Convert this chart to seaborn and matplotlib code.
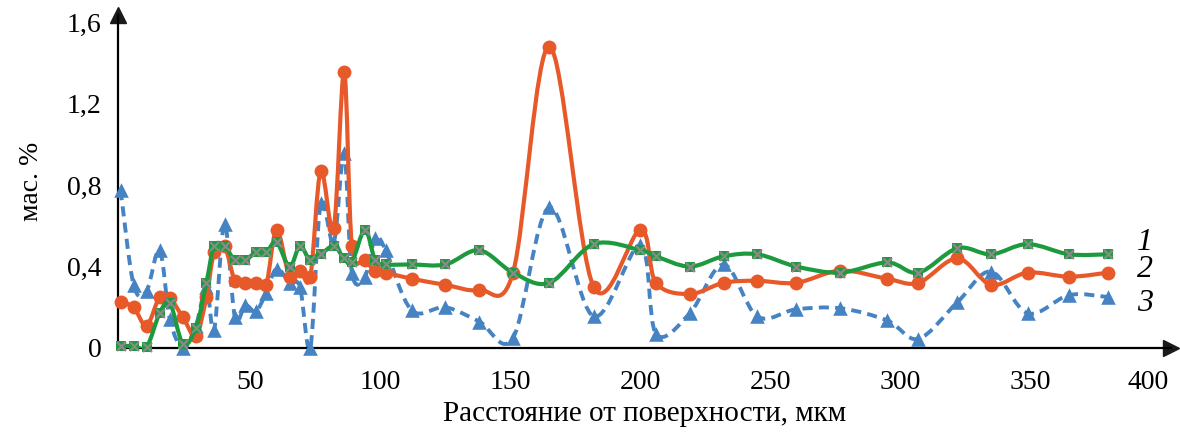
import numpy as np
import pandas as pd
import matplotlib
matplotlib.use('Agg')
import matplotlib.pyplot as plt
import matplotlib.transforms as mtransforms
import seaborn as sns
from matplotlib.path import Path
from matplotlib.patches import PathPatch

# Расстояние от поверхности, мкм
distance = [0, 5, 10, 15, 19, 24, 29, 33, 36, 40, 44, 48, 52, 56, 60, 65, 69, 73,
            77, 82, 86, 89, 94, 98, 102, 112, 125, 138, 151, 165, 182, 200, 206,
            219, 232, 245, 260, 277, 295, 307, 322, 335, 349, 365, 380]

# кривая 1 (зелёная)
series_1 = [0.01, 0.01, 0.005, 0.17, 0.22, 0.02, 0.10, 0.32, 0.50, 0.50, 0.43, 0.43,
            0.47, 0.47, 0.52, 0.40, 0.50, 0.43, 0.46, 0.50, 0.44, 0.42, 0.58, 0.43,
            0.41, 0.41, 0.41, 0.48, 0.37, 0.32, 0.51, 0.48, 0.45, 0.40, 0.45, 0.46,
            0.40, 0.37, 0.42, 0.37, 0.49, 0.46, 0.51, 0.46, 0.46]

# кривая 2 (оранжевая)
series_2 = [0.225, 0.20, 0.11, 0.25, 0.245, 0.15, 0.06, 0.25, 0.47, 0.50, 0.33, 0.32,
            0.32, 0.31, 0.58, 0.35, 0.38, 0.35, 0.87, 0.59, 1.355, 0.50, 0.43, 0.38,
            0.37, 0.34, 0.31, 0.285, 0.37, 1.48, 0.30, 0.58, 0.32, 0.265, 0.32, 0.33,
            0.32, 0.38, 0.34, 0.32, 0.44, 0.31, 0.37, 0.35, 0.37]

# кривая 3 (синяя, пунктир)
series_3 = [0.775, 0.31, 0.28, 0.48, 0.14, 0.0, 0.11, 0.30, 0.09, 0.61, 0.15, 0.21,
            0.18, 0.27, 0.39, 0.32, 0.30, 0.0, 0.71, 0.515, 0.955, 0.37, 0.35, 0.54,
            0.48, 0.185, 0.20, 0.13, 0.05, 0.69, 0.155, 0.505, 0.07, 0.17, 0.41, 0.155,
            0.19, 0.195, 0.135, 0.045, 0.225, 0.375, 0.17, 0.26, 0.25]

y_ticks = [0, 0.4, 0.8, 1.2, 1.6]
x_ticks = [50, 100, 150, 200, 250, 300, 350, 400]

GREEN = '#1E9A3E'
ORANGE = '#E8592A'
BLUE = '#4683C3'


def smooth_path(xs, ys):
    # сглаженная линия как в Excel (кривые Безье через точки)
    pts = np.column_stack([xs, ys]).astype(float)
    n = len(pts)
    verts = [pts[0]]
    codes = [Path.MOVETO]
    for i in range(n - 1):
        p0 = pts[max(i - 1, 0)]
        p1 = pts[i]
        p2 = pts[i + 1]
        p3 = pts[min(i + 2, n - 1)]
        verts += [p1 + (p2 - p0) / 6, p2 - (p3 - p1) / 6, p2]
        codes += [Path.CURVE4] * 3
    return Path(verts, codes)


sns.set_theme(style='white')
plt.rcParams['font.family'] = ['Liberation Serif', 'DejaVu Serif']

fig = plt.figure(figsize=(11.8, 4.37), dpi=100)
ax = fig.add_axes([0.1, 0.2037, 0.892, 0.762])

df = pd.DataFrame({'x': distance, 's1': series_1, 's2': series_2, 's3': series_3})

# 3 - синяя пунктирная
ax.add_patch(PathPatch(smooth_path(df.x, df.s3), fill=False, edgecolor=BLUE,
                       lw=2.8, linestyle=(0, (2.6, 1.6)), zorder=2))
sns.scatterplot(data=df, x='x', y='s3', marker='^', s=110, color=BLUE,
                edgecolor=BLUE, linewidth=0, ax=ax, zorder=3, clip_on=False)

# 2 - оранжевая
ax.add_patch(PathPatch(smooth_path(df.x, df.s2), fill=False, edgecolor=ORANGE,
                       lw=3.0, zorder=4))
sns.scatterplot(data=df, x='x', y='s2', marker='o', s=100, color=ORANGE,
                edgecolor=ORANGE, linewidth=0, ax=ax, zorder=5, clip_on=False)

# 1 - зелёная
ax.add_patch(PathPatch(smooth_path(df.x, df.s1), fill=False, edgecolor=GREEN,
                       lw=3.0, zorder=6))
sns.scatterplot(data=df, x='x', y='s1', marker='s', s=58, color=GREEN,
                edgecolor=GREEN, linewidth=0, ax=ax, zorder=7, clip_on=False)
sns.scatterplot(data=df, x='x', y='s1', marker='x', s=42, color='#8A8A8A',
                linewidth=1.6, ax=ax, zorder=8, clip_on=False)

ax.set_xlim(-1, 404)
ax.set_ylim(0, 1.635)
ax.set_xticks(x_ticks)
ax.set_xticklabels([str(t) for t in x_ticks])
ax.set_yticks(y_ticks)
ax.set_yticklabels([('%g' % t).replace('.', ',') for t in y_ticks])
ax.tick_params(axis='both', length=0, labelsize=20, colors='black')
ax.tick_params(axis='x', pad=16)
ax.tick_params(axis='y', pad=12)

# последняя подпись чуть левее, как в Excel
last = ax.get_xticklabels()[-1]
last.set_transform(last.get_transform() +
                   mtransforms.ScaledTranslation(-0.12, 0, fig.dpi_scale_trans))

for side in ['top', 'right']:
    ax.spines[side].set_visible(False)
for side in ['left', 'bottom']:
    ax.spines[side].set_color('black')
    ax.spines[side].set_linewidth(1.6)

ax.plot(1, 0, '>k', ms=11, transform=ax.transAxes, clip_on=False)
ax.plot(0, 1, '^k', ms=11, transform=ax.transAxes, clip_on=False)

ax.set_xlabel('Расстояние от поверхности, мкм', fontsize=21, color='black', labelpad=4)
ax.set_ylabel('мас. %', fontsize=20, color='black', labelpad=16)

for lab, yv in [('1', 0.52), ('2', 0.385), ('3', 0.22)]:
    ax.text(391, yv, lab, fontsize=23, style='italic', va='center', ha='left',
            color='black')

fig.savefig('out.png', dpi=100)
